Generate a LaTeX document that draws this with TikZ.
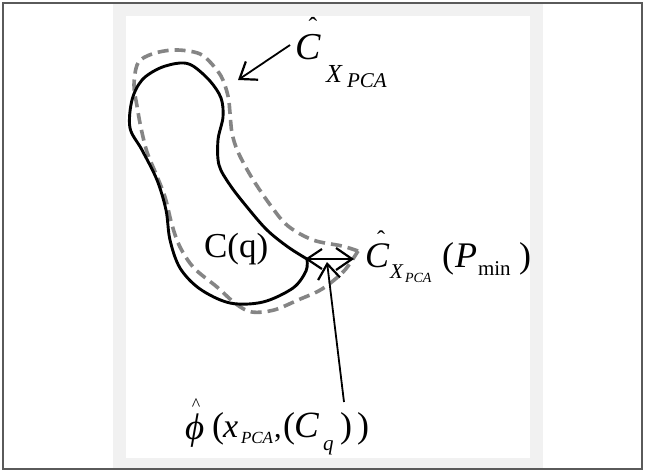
\documentclass[tikz,border=0pt]{standalone}
\usepackage{fontspec}
\setmainfont{Liberation Serif}
\usetikzlibrary{arrows.meta}
\definecolor{frame}{HTML}{5A5A5A}
\definecolor{panel}{HTML}{F1F1F1}
\definecolor{dashgray}{HTML}{858585}
\tikzset{
  lbl/.style={inner sep=0pt, outer sep=0pt, anchor=base west},
  hatlbl/.style={inner sep=0pt, outer sep=0pt, anchor=north},
  outline/.style={line width=2.9pt, black, line join=round, line cap=round},
  bound/.style={line width=3.6pt, dashgray, dash pattern=on 11pt off 6pt, line join=round},
  barb/.style={line width=1.8pt, -{Straight Barb[length=15pt,width=22pt,line width=2.2pt]}},
  dbarb/.style={line width=1.8pt, {Straight Barb[length=15pt,width=20pt,line width=2.2pt]}-{Straight Barb[length=16pt,width=22pt,line width=2.2pt]}},
}
\newcommand{\fs}[1]{\fontsize{#1}{#1}\selectfont}
\begin{document}
\begin{tikzpicture}[x=1pt,y=-1pt]
\useasboundingbox (0,0) rectangle (645,472);
% frame and panel
\fill[panel] (113,4) rectangle (543,468);
\fill[white] (126,16) rectangle (530,458);
\draw[frame, line width=1.5pt] (3,3) rectangle (642,469);

% dashed boundary
\draw[bound] plot[smooth, tension=0.55] coordinates {
 (358,251) (342,246) (313,240) (288,226) (271,206) (252,178) (238,152)
 (232,133) (230,113) (228,96) (221,76) (206,58) (194,52) (173,50) (152,54)
 (138,63) (134,85) (137,106) (141,128) (147,152) (156,174) (165,197)
 (172,225) (180,247) (194,268) (217,287) (236,304) (252,312) (274,310)
 (298,300) (322,289) (344,271) (358,251)};

% solid contour
\draw[outline] plot[smooth, tension=0.55] coordinates {
 (307,259) (288,247) (267,230) (247,207) (230,185) (219,165) (218,140)
 (223,117) (221,98) (210,81) (193,66) (180,63) (160,68) (142,80) (132,100)
 (130,128) (142,150) (157,180) (166,210) (170,240) (180,268) (200,289)
 (230,303) (263,302) (293,288) (306,271) (307,259)};

% anchor coordinates on the curves
\coordinate (ctop) at (238,80);
\coordinate (jl) at (305,259);
\coordinate (jr) at (354,259);
\coordinate (jm) at (327,262);

% labels
\node[lbl] (Ctop) at (295,59) {\fs{38}\itshape C};
\node[hatlbl] (Ctophat) at (313,17) {\fs{26}\symbol{"02C6}};
\node[lbl] (Xtop) at (326,82) {\fs{26}\itshape X};
\node[lbl] (PCAtop) at (347,87) {\fs{21}\itshape PCA};

\node[lbl] (Cq) at (204,257) {\fs{35}C(q)};

\node[lbl] (Cr) at (365,267) {\fs{36}\itshape C};
\node[hatlbl] (Crhat) at (381,231) {\fs{24}\symbol{"02C6}};
\node[lbl] (Xr) at (390,278) {\fs{21}\itshape X};
\node[lbl] (PCAr) at (405,282) {\fs{14}\itshape PCA};
\node[lbl] (lpr) at (442,267) {\fs{36}(};
\node[lbl] (Pr) at (455,267) {\fs{36}\itshape P};
\node[lbl] (minr) at (478,275) {\fs{21}min};
\node[lbl] (rpr) at (519,267) {\fs{36})};

\node[hatlbl] (phihat) at (196,399) {\fs{18}\textasciicircum};
\node[lbl] (phi) at (185,439) {\fs{37}\itshape ϕ};
\node[lbl] (lp1) at (212,437) {\fs{36}(};
\node[lbl] (xb) at (223,437) {\fs{34}\itshape x};
\node[lbl] (PCAb) at (241,443) {\fs{17}\itshape PCA};
\node[lbl] (comma) at (274,437) {\fs{30},};
\node[lbl] (lp2) at (283,437) {\fs{36}(};
\node[lbl] (Cb) at (294,437) {\fs{37}\itshape C};
\node[lbl] (qb) at (323,450) {\fs{21}\itshape q};
\node[lbl] (rp2) at (340,437) {\fs{36})};
\node[lbl] (rp1) at (357,437) {\fs{36})};

\coordinate (vbot) at (344,402);
\coordinate (tstart) at (290,45);

% connectors
\draw[barb] (tstart) -- (ctop);
\draw[dbarb] (jl) -- (jr);
\draw[barb] (vbot) -- (jm);
\end{tikzpicture}
\end{document}
